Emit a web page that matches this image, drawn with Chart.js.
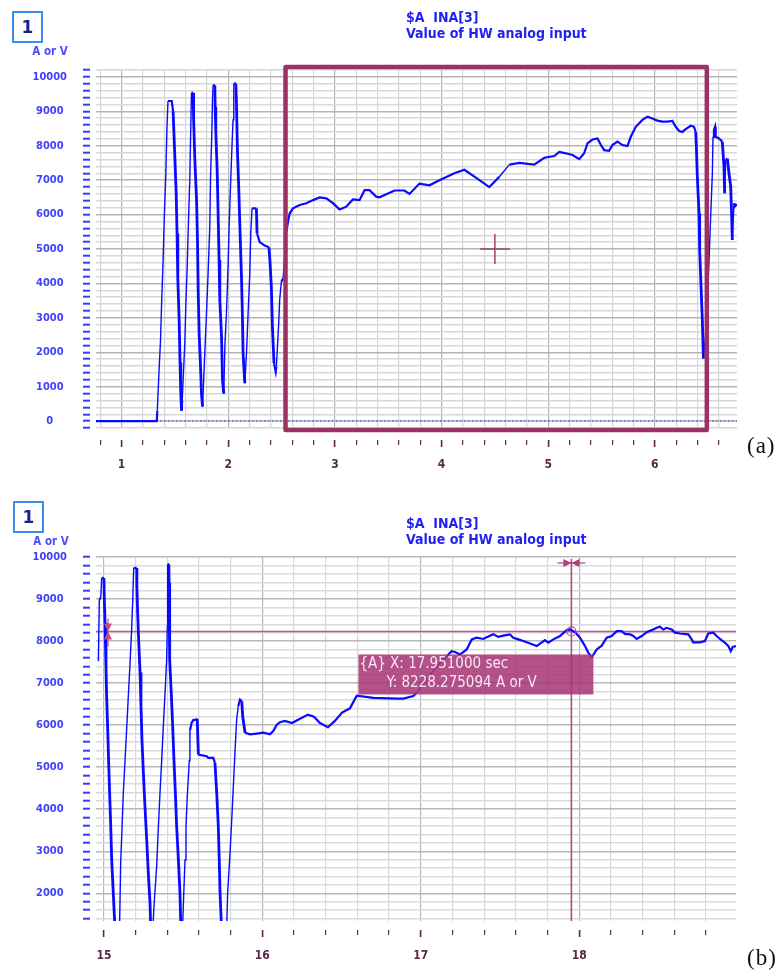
<!DOCTYPE html>
<html>
<head>
<meta charset="utf-8">
<script src="https://cdn.jsdelivr.net/npm/chart.js@4.4.1/dist/chart.umd.min.js"></script>
<style>
html,body{margin:0;padding:0;background:#fff;}
body{width:779px;height:975px;position:relative;overflow:hidden;}
canvas{position:absolute;left:0;}
.t{position:absolute;white-space:nowrap;}
.box{position:absolute;width:27px;height:28px;border:2px solid #3b8ef0;text-align:center;
  font:bold 17px "DejaVu Sans",sans-serif;color:#1e1e8c;line-height:28px;}
.title{font:bold 14px "DejaVu Sans Condensed","DejaVu Sans",sans-serif;color:#2222f0;line-height:16px;left:406px;}
.unit{font:bold 11.5px "DejaVu Sans Condensed","DejaVu Sans",sans-serif;color:#4b4bff;line-height:12px;width:60px;text-align:center;}
.tag{font:23px "Liberation Serif","Times New Roman",serif;color:#111;line-height:24px;left:747px;letter-spacing:1px;}
</style>
</head>
<body>
<canvas id="ca" width="779" height="490" style="top:0"></canvas>
<canvas id="cb" width="779" height="485" style="top:490px"></canvas>

<div class="box" style="left:12px;top:11px">1</div>
<div class="t unit" style="left:20px;top:45px">A or V</div>
<div class="t title" style="top:9px">$A&nbsp;&nbsp;INA[3]<br>Value of HW analog input</div>
<div class="t tag" style="top:434px">(a)</div>

<div class="box" style="left:13px;top:501px">1</div>
<div class="t unit" style="left:21px;top:535px">A or V</div>
<div class="t title" style="top:515px">$A&nbsp;&nbsp;INA[3]<br>Value of HW analog input</div>
<div class="t tag" style="top:946px">(b)</div>

<script>
// ---------- data: panel (a) ----------
const secA = [0.76,1.33,1.335,1.35,1.365,1.375,1.39,1.40,1.415,1.425,1.435,1.47,1.483,1.497,1.512,1.52,1.527,1.54,1.548,1.555,1.562,
  1.568,1.577,1.593,1.602,1.615,1.628,1.640,1.649,1.655,1.671,1.675,1.687,1.703,1.712,1.718,1.727,1.740,1.749,1.759,
  1.764,1.780,1.796,1.811,1.827,1.834,1.846,1.852,1.858,1.874,1.877,1.883,1.896,1.905,1.914,1.921,1.937,1.946,1.958,
  1.968,1.983,1.998,2.008,2.021,2.036,2.045,2.052,2.071,2.077,2.086,2.099,2.111,2.124,2.133,2.139,2.155,
  2.171,2.186,2.202,2.211,2.223,2.264,2.270,2.295,2.342,2.382,2.392,2.404,2.414,2.429,2.445,2.451,2.461,2.473,2.482,2.498,
  2.515,2.545,2.560,2.576,2.607,2.670,2.732,2.795,2.857,2.920,2.981,3.044,3.107,3.168,3.231,3.278,3.325,3.388,3.418,
  3.559,3.652,3.699,3.793,3.886,3.980,4.120,4.214,4.308,4.448,4.542,4.635,4.729,4.869,4.963,5.057,
  5.103,5.166,5.228,5.291,5.337,5.368,5.415,5.462,5.494,5.525,5.571,5.602,5.649,5.696,5.743,5.774,5.821,5.883,5.930,
  5.977,6.023,6.070,6.117,6.164,6.196,6.227,6.258,6.289,6.336,6.367,6.383,6.389,6.398,6.414,6.420,6.433,6.445,6.455,
  6.475,6.492,6.508,6.523,6.539,6.545,6.554,6.564,6.570,6.601,6.632,6.648,6.654,6.664,6.679,6.695,6.711,6.720,6.726,6.742,6.748,6.77];
const valA = [0,0,300,1400,2350,3400,4750,5900,7200,8500,9300,9300,9000,7850,6600,5450,4150,2900,1700,800,300,
  600,1200,2300,3350,4500,5900,7100,8600,9540,9540,8800,7580,6420,5160,3800,2550,1580,800,420,
  800,1970,3130,4290,5650,7100,8360,9330,9760,9760,9130,8450,7290,6030,4680,3520,2450,1190,800,
  2160,3130,4480,5650,6810,8070,8750,9810,9810,9230,7870,6710,5450,4190,3030,1970,1100,
  1970,3130,4290,5450,6180,6180,5450,5200,5100,5050,4600,3900,2740,1680,1430,1580,2150,2840,3520,4050,
  4150,5500,5790,6030,6180,6280,6330,6420,6500,6470,6330,6150,6230,6440,6420,6710,6710,6520,6500,
  6700,6700,6600,6900,6850,7000,7200,7300,7100,6800,7100,7450,7500,7450,7650,7700,
  7820,7780,7730,7610,7780,8070,8180,8210,8020,7870,7850,8020,8120,8020,7990,8260,8550,8750,8840,
  8790,8730,8700,8700,8720,8550,8430,8400,8480,8580,8550,8400,7970,7100,6030,4970,3900,2930,1820,
  2500,3520,4680,5940,7200,8260,8460,8550,8260,8210,8120,7390,6620,7580,7630,7200,6810,5940,5260,6330,6230,6300];

// ---------- data: panel (b) ----------
const secB = [14.965,14.971,14.980,14.986,15.000,15.002,15.007,15.013,15.017,15.024,15.030,15.036,15.043,15.049,15.059,15.066,15.085,15.095,
  15.106,15.114,15.122,15.133,15.144,15.154,15.165,15.175,15.182,15.188,15.207,15.208,15.213,15.220,15.228,15.234,15.240,15.249,15.259,15.270,15.280,15.291,15.300,
  15.316,15.333,15.343,15.354,15.365,15.375,15.386,15.396,15.400,15.401,15.403,15.410,15.411,15.413,15.417,15.425,15.434,15.442,15.451,15.459,15.470,15.480,15.490,
  15.503,15.512,15.518,15.526,15.539,15.543,15.554,15.564,15.581,15.589,15.596,15.649,15.659,15.690,15.701,15.712,15.722,15.728,15.733,15.750,15.770,
  15.781,15.796,15.807,15.817,15.827,15.838,15.848,15.859,15.870,15.876,15.891,15.922,15.964,16.006,16.048,16.069,16.091,16.111,
  16.143,16.187,16.238,16.288,16.326,16.364,16.414,16.458,16.503,16.553,16.596,16.701,16.848,16.890,16.953,16.974,17.037,17.121,
  17.195,17.216,17.248,17.290,17.322,17.353,17.395,17.416,17.458,17.489,17.521,17.563,17.584,17.616,17.647,17.690,17.732,17.753,
  17.784,17.805,17.837,17.879,17.921,17.942,17.974,18.005,18.037,18.058,18.080,18.111,18.142,18.174,18.205,18.237,18.268,18.289,
  18.321,18.342,18.363,18.395,18.426,18.458,18.489,18.510,18.531,18.552,18.584,18.605,18.636,18.689,18.710,18.720,18.762,18.794,
  18.815,18.847,18.868,18.889,18.921,18.942,18.957,18.969,18.990];
const valB = [7520,8990,9030,9500,9500,9070,8430,7400,6690,5900,5100,4390,3600,2800,2010,1450,400,400,
  2760,3520,4350,5140,5940,6690,7480,8280,8990,9740,9740,9310,8670,7960,7250,6450,5660,4870,4070,3280,2490,1770,500,
  1690,2640,3520,4390,5180,5980,6770,7560,8350,9070,9830,9830,9390,8350,7560,6770,5980,5180,4390,3600,2800,2010,500,
  1900,2790,3580,4290,5160,5870,6060,6120,6130,6150,5300,5260,5220,5220,5100,4390,3600,2800,2010,500,500,
  2010,2960,3760,4550,5340,6130,6450,6610,6570,6210,5820,5780,5800,5820,5780,5860,6010,6070,
  6100,6050,6150,6250,6200,6050,5950,6100,6300,6400,6700,6650,6630,6630,6690,6770,7090,7480,
  7760,7740,7680,7800,8040,8080,8050,8090,8160,8100,8130,8160,8080,8040,8000,7940,7880,7940,
  8020,7960,8040,8120,8260,8275,8210,8080,7880,7720,7620,7800,7890,8080,8120,8235,8235,8170,
  8160,8120,8050,8120,8210,8260,8315,8340,8275,8315,8275,8200,8180,8160,8040,7970,7970,8000,
  8180,8200,8120,8050,7960,7880,7760,7860,7880];

// ---------- tick labels ----------
const xLabelsA = [1,2,3,4,5,6];
const yLabelsA = [0,1000,2000,3000,4000,5000,6000,7000,8000,9000,10000];
const xLabelsB = [15,16,17,18];
const yLabelsB = [2000,3000,4000,5000,6000,7000,8000,9000,10000];

// ---------- annotations ----------
const zeroLineA = [0.76, 6.77];
const zoomBoxA = {x0: 2.537, x1: 6.487, y0: -260, y1: 10290};
const crossA = {x: 4.5, y: 5000};
const cursorB = {x: 17.951000, y: 8228.275094};

const FONT = "'DejaVu Sans Condensed','DejaVu Sans',sans-serif";
const onList = (v, list) => list.some(l => Math.abs(l - v) < 1e-6);
const near = (v, step) => Math.abs(v / step - Math.round(v / step)) < 1e-6;
const segW = c => { const d = c.p1.parsed.y - c.p0.parsed.y; return d < -300 ? 2.8 : (d > 300 ? 1.4 : 2.2); };

function makeX(min, max, labels, tl, gap, pad, h, cols) {
  return {
    type: 'linear', min, max,
    afterFit(s) { s.height = h; },
    border: {display: false},
    grid: {
      color: c => near(c.tick.value, 1) ? cols[0] : cols[1],
      lineWidth: 1.2,
      tickLength: tl,
      tickColor: '#5c2b3f',
      tickWidth: c => near(c.tick.value, 1) ? 1.6 : 1.2,
      tickBorderDash: c => near(c.tick.value, 1) ? [7, gap] : [5, gap],
      tickBorderDashOffset: c => near(c.tick.value, 1) ? 7 : 5
    },
    ticks: {
      stepSize: 0.2, autoSkip: false, includeBounds: false, maxRotation: 0, minRotation: 0,
      padding: pad, color: '#5b2745', font: {family: FONT, size: 12, weight: 'bold'},
      callback: v => onList(v, labels) ? String(Math.round(v)) : ''
    }
  };
}
function makeY(min, max, labels, cols) {
  return {
    type: 'linear', min, max, position: 'left',
    afterFit(s) { s.width = 96; },
    border: {display: false},
    grid: {
      color: c => near(c.tick.value, 1000) ? cols[0] : cols[1],
      lineWidth: 1.4,
      tickLength: 13, tickColor: '#3838ff', tickWidth: 2,
      tickBorderDash: [7, 20], tickBorderDashOffset: 0
    },
    ticks: {
      stepSize: 200, autoSkip: false, includeBounds: false, crossAlign: 'center', padding: 16,
      color: '#4040ff', font: {family: FONT, size: 11, weight: 'bold'},
      callback: v => onList(v, labels) ? String(v) : ''
    }
  };
}

const overlayA = {
  id: 'overlayA',
  afterDatasetsDraw(chart) {
    const ctx = chart.ctx, x = chart.scales.x, y = chart.scales.y;
    const l = x.getPixelForValue(zoomBoxA.x0), r = x.getPixelForValue(zoomBoxA.x1);
    const t = y.getPixelForValue(zoomBoxA.y1), b = y.getPixelForValue(zoomBoxA.y0);
    ctx.save();
    ctx.strokeStyle = '#9a3363'; ctx.lineWidth = 4.5; ctx.lineJoin = 'round';
    ctx.beginPath(); ctx.rect(l, t, r - l, b - t); ctx.stroke();
    const cx = x.getPixelForValue(crossA.x), cy = y.getPixelForValue(crossA.y);
    ctx.strokeStyle = '#a0406e'; ctx.lineWidth = 1.5;
    ctx.beginPath();
    ctx.moveTo(cx - 15, cy); ctx.lineTo(cx + 15, cy);
    ctx.moveTo(cx, cy - 15); ctx.lineTo(cx, cy + 15);
    ctx.stroke();
    ctx.restore();
  }
};

const overlayB = {
  id: 'overlayB',
  beforeDatasetsDraw(chart) {
    const ctx = chart.ctx, a = chart.chartArea, x = chart.scales.x, y = chart.scales.y;
    const cx = x.getPixelForValue(cursorB.x), cy = y.getPixelForValue(cursorB.y);
    ctx.save();
    ctx.strokeStyle = '#c4538e'; ctx.lineWidth = 1.5;
    ctx.beginPath(); ctx.moveTo(a.left, cy); ctx.lineTo(a.right, cy); ctx.stroke();
    ctx.strokeStyle = '#b8407f';
    ctx.beginPath(); ctx.moveTo(cx, a.top + 2); ctx.lineTo(cx, a.bottom); ctx.stroke();
    ctx.restore();
  },
  afterDatasetsDraw(chart) {
    const ctx = chart.ctx, a = chart.chartArea, x = chart.scales.x, y = chart.scales.y;
    const cx = x.getPixelForValue(cursorB.x), cy = y.getPixelForValue(cursorB.y);
    ctx.save();
    ctx.strokeStyle = '#c0508a'; ctx.lineWidth = 1.2;
    ctx.beginPath(); ctx.arc(cx, cy, 4.5, 0, Math.PI * 2); ctx.stroke();
    const ym = a.top + 6;
    ctx.strokeStyle = '#b0407a'; ctx.fillStyle = '#b0407a'; ctx.lineWidth = 1.2;
    ctx.beginPath(); ctx.moveTo(cx - 14, ym); ctx.lineTo(cx + 14, ym); ctx.stroke();
    ctx.beginPath();
    ctx.moveTo(cx - 8, ym - 4); ctx.lineTo(cx - 8, ym + 4); ctx.lineTo(cx, ym); ctx.closePath();
    ctx.moveTo(cx + 8, ym - 4); ctx.lineTo(cx + 8, ym + 4); ctx.lineTo(cx, ym); ctx.closePath();
    ctx.fill();
    const lx = a.left + 12;
    ctx.strokeStyle = '#c0507a'; ctx.fillStyle = '#c0507a';
    ctx.beginPath(); ctx.moveTo(lx, cy - 13); ctx.lineTo(lx, cy + 15); ctx.stroke();
    ctx.beginPath();
    ctx.moveTo(lx - 4, cy - 8); ctx.lineTo(lx + 4, cy - 8); ctx.lineTo(lx, cy); ctx.closePath();
    ctx.moveTo(lx - 4, cy + 8); ctx.lineTo(lx + 4, cy + 8); ctx.lineTo(lx, cy); ctx.closePath();
    ctx.fill();
    const bx = cx - 213, by = cy + 23, bw = 235, bh = 40;
    ctx.fillStyle = 'rgba(168,52,118,0.86)';
    ctx.fillRect(bx, by, bw, bh);
    ctx.fillStyle = '#f7e8f3';
    ctx.font = "15px 'DejaVu Sans Condensed','DejaVu Sans',sans-serif";
    ctx.textBaseline = 'middle'; ctx.textAlign = 'left';
    ctx.fillText('{A} X: ' + cursorB.x.toFixed(6) + ' sec', bx + 1, by + 10);
    ctx.fillText('Y: ' + cursorB.y.toFixed(6) + ' A or V', bx + 28, by + 29);
    ctx.restore();
  }
};

const baseOpts = {
  responsive: false, animation: false, devicePixelRatio: 1, events: [],
  plugins: {legend: {display: false}, tooltip: {enabled: false}, title: {display: false}}
};

new Chart(document.getElementById('ca'), {
  type: 'line',
  data: {datasets: [
    {data: secA.map((s, i) => ({x: s, y: valA[i]})), borderColor: '#0a0aff', borderWidth: 2,
     pointRadius: 0, tension: 0, clip: 0, segment: {borderWidth: segW}},
    {data: zeroLineA.map(s => ({x: s, y: 0})), borderColor: '#2a2aff', borderWidth: 1,
     borderDash: [1.5, 2.5], pointRadius: 0, clip: 0}
  ]},
  options: Object.assign({}, baseOpts, {
    layout: {padding: {top: 70, right: 42, bottom: 12, left: 0}},
    scales: {
      x: makeX(0.76, 6.77, xLabelsA, 19, 12, 10.3, 50, ['#b2b2b2', '#d6d6d6']),
      y: makeY(-200, 10200, yLabelsA, ['#b4b4b4', '#d8d8d8'])
    }
  }),
  plugins: [overlayA]
});

new Chart(document.getElementById('cb'), {
  type: 'line',
  data: {datasets: [
    {data: secB.map((s, i) => ({x: s, y: valB[i]})), borderColor: '#0a0aff', borderWidth: 2,
     pointRadius: 0, tension: 0, clip: 0, segment: {borderWidth: segW}}
  ]},
  options: Object.assign({}, baseOpts, {
    layout: {padding: {top: 67, right: 43, bottom: 10, left: 0}},
    scales: {
      x: makeX(14.95, 18.99, xLabelsB, 17, 9, 10.3, 44, ['#b4b8bc', '#d5d8dc']),
      y: makeY(1340, 10000, yLabelsB, ['#b6b8ba', '#d8dadc'])
    }
  }),
  plugins: [overlayB]
});
</script>
</body>
</html>
